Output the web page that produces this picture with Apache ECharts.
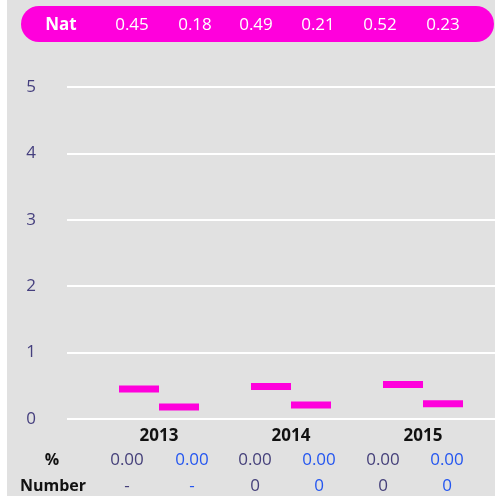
<!DOCTYPE html>
<html>
<head>
<meta charset="utf-8">
<script src="https://cdn.jsdelivr.net/npm/echarts@6/dist/echarts.min.js"></script>
<style>html,body{margin:0;padding:0;background:#fff}#c{width:495px;height:496px}</style>
</head>
<body>
<div id="c"></div>
<script>
var years = ['2013', '2014', '2015'];
var natA = [0.45, 0.49, 0.52];
var natB = [0.18, 0.21, 0.23];
var natLabels = ['0.45', '0.18', '0.49', '0.21', '0.52', '0.23'];
var pctLabels = ['0.00', '0.00', '0.00', '0.00', '0.00', '0.00'];
var numLabels = ['-', '-', '0', '0', '0', '0'];
var yTicks = [0, 1, 2, 3, 4, 5];

var FONT = '"Open Sans", "Noto Sans", sans-serif';
var MAG = '#ff00dc';
var topX = [132, 195, 256, 318, 380, 443];
var rowX = [127, 192, 255, 319, 383, 447];

function txt(x, y, t, color, size, weight, extra) {
  var st = { text: t, fill: color, fontSize: size, fontWeight: weight || 'normal', fontFamily: FONT, align: 'center', verticalAlign: 'middle' };
  if (extra) for (var k in extra) st[k] = extra[k];
  return { type: 'text', z: 11, x: x, y: y, style: st };
}

var chart = echarts.init(document.getElementById('c'));
var graphics = [
  { type: 'rect', z: -100, shape: { x: 7, y: 0, width: 488, height: 496 }, style: { fill: '#e1e1e1' }, silent: true },
  { type: 'rect', z: 10, shape: { x: 21, y: 6, width: 473, height: 36, r: 18 }, style: { fill: MAG } },
  txt(61, 25, 'Nat', '#fff', 17, 'bold'),
  txt(52, 460, '%', '#111', 16, 'bold'),
  txt(53, 486, 'Number', '#111', 16, 'bold', { letterSpacing: 2 })
];
natLabels.forEach(function (t, i) { graphics.push(txt(topX[i], 25, t, '#fff', 17)); });
pctLabels.forEach(function (t, i) { graphics.push(txt(rowX[i], 460, t, i % 2 ? '#2456f0' : '#45407a', 17)); });
numLabels.forEach(function (t, i) { graphics.push(txt(rowX[i], 486, t, i % 2 ? '#2456f0' : '#45407a', 17)); });

chart.setOption({
  animation: false,
  backgroundColor: '#ffffff',
  textStyle: { fontFamily: FONT },
  grid: [
    { left: 67, right: 0, top: 87, bottom: 77 },
    { left: 93, width: 396, top: 87, bottom: 77 }
  ],
  xAxis: [
    { gridIndex: 0, type: 'value', min: 0, max: 1, show: false },
    { gridIndex: 1, type: 'category', data: years,
      axisLine: { show: false }, axisTick: { show: false },
      axisLabel: { margin: 9, color: '#111', fontWeight: 'bold', fontSize: 17, fontFamily: FONT } }
  ],
  yAxis: [
    { gridIndex: 0, type: 'value', min: yTicks[0], max: yTicks[yTicks.length - 1], interval: 1,
      axisLine: { show: false }, axisTick: { show: false },
      axisLabel: { margin: 31, color: '#453f7e', fontSize: 17, fontFamily: FONT },
      splitLine: { lineStyle: { color: '#ffffff', width: 2 } } },
    { gridIndex: 1, type: 'value', min: 0, max: 5, show: false }
  ],
  series: [
    { type: 'scatter', xAxisIndex: 1, yAxisIndex: 1, data: natA, symbol: 'rect', symbolSize: [40, 7], symbolOffset: [-20, 0], itemStyle: { color: MAG, opacity: 1 } },
    { type: 'scatter', xAxisIndex: 1, yAxisIndex: 1, data: natB, symbol: 'rect', symbolSize: [40, 7], symbolOffset: [20, 0], itemStyle: { color: MAG, opacity: 1 } }
  ],
  graphic: graphics
});
</script>
</body>
</html>
